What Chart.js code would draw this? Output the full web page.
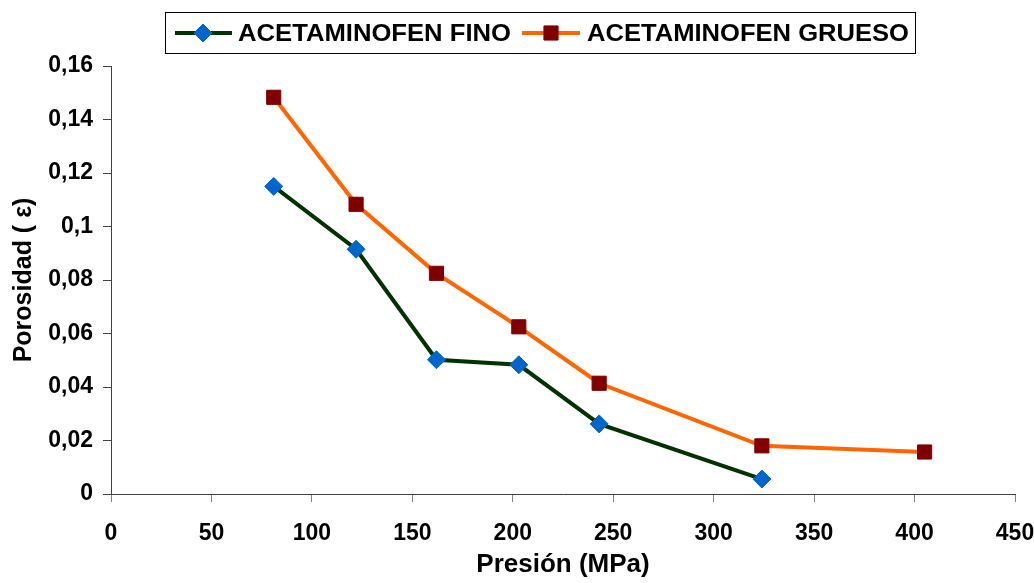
<!DOCTYPE html>
<html>
<head>
<meta charset="utf-8">
<script src="https://cdn.jsdelivr.net/npm/chart.js@4/dist/chart.umd.min.js"></script>
<style>
html,body{margin:0;padding:0;background:#fff;}
#wrap{width:1034px;height:583px;position:relative;}
</style>
</head>
<body>
<div id="wrap"><canvas id="c" width="1034" height="583"></canvas></div>
<script>
// ---- data ----
const seriesNames = ['ACETAMINOFEN FINO', 'ACETAMINOFEN GRUESO'];
const finoX = [81, 122, 162, 203, 243, 324];
const finoY = [0.115, 0.0915, 0.0502, 0.0483, 0.0262, 0.0056];
const gruesoX = [81, 122, 162, 203, 243, 324, 405];
const gruesoY = [0.1483, 0.1083, 0.0825, 0.0625, 0.0414, 0.018, 0.0157];
const xTickLabels = ['0','50','100','150','200','250','300','350','400','450'];
const yTickLabels = ['0','0,02','0,04','0,06','0,08','0,1','0,12','0,14','0,16'];
const xTitle = 'Presión (MPa)';
const yTitle = 'Porosidad ( ε)';

const FONT = "'Liberation Sans', Arial, sans-serif";

function pts(xs, ys){ return xs.map((x,i)=>({x:x, y:ys[i]})); }

const legendBox = {
  id: 'legendBox',
  afterDraw(chart){
    const ctx = chart.ctx;
    ctx.save();
    ctx.strokeStyle = '#000';
    ctx.lineWidth = 1;
    ctx.strokeRect(165.5, 12.5, 750, 41);
    const items = [
      {ds: chart.data.datasets[0], x0: 175, x1: 232, mx: 203, tx: 238, tw: 273},
      {ds: chart.data.datasets[1], x0: 522, x1: 580, mx: 551, tx: 587, tw: 322}
    ];
    const cy = 33;
    items.forEach(it => {
      ctx.strokeStyle = it.ds.borderColor;
      ctx.lineWidth = 4;
      ctx.beginPath(); ctx.moveTo(it.x0, cy); ctx.lineTo(it.x1, cy); ctx.stroke();
      ctx.fillStyle = it.ds.pointBackgroundColor;
      ctx.strokeStyle = it.ds.pointBorderColor;
      ctx.lineWidth = 1;
      ctx.beginPath();
      const r = it.ds.pointRadius;
      if (it.ds.pointStyle === 'rectRot') {
        ctx.moveTo(it.mx, cy - r); ctx.lineTo(it.mx + r, cy); ctx.lineTo(it.mx, cy + r); ctx.lineTo(it.mx - r, cy); ctx.closePath();
      } else {
        const s = Math.SQRT1_2 * r;
        ctx.rect(it.mx - s, cy - s, 2*s, 2*s);
      }
      ctx.fill(); ctx.stroke();
      ctx.fillStyle = '#000';
      ctx.font = 'bold 24px ' + FONT;
      ctx.textBaseline = 'middle';
      ctx.textAlign = 'left';
      const w = ctx.measureText(it.ds.label).width;
      const sx = it.tw / w;
      ctx.save();
      ctx.translate(it.tx, cy + 1);
      ctx.scale(sx, 1);
      ctx.fillText(it.ds.label, 0, 0);
      ctx.restore();
    });
    ctx.restore();
  }
};

new Chart(document.getElementById('c'), {
  type: 'line',
  data: {
    datasets: [
      {
        label: seriesNames[0],
        data: pts(finoX, finoY),
        borderColor: '#003300',
        borderWidth: 4,
        pointStyle: 'rectRot',
        pointRadius: 9,
        pointHoverRadius: 9,
        pointBackgroundColor: '#0066CC',
        pointBorderColor: '#0066CC',
        pointBorderWidth: 1,
        tension: 0,
        fill: false
      },
      {
        label: seriesNames[1],
        data: pts(gruesoX, gruesoY),
        borderColor: '#FF6600',
        borderWidth: 4,
        pointStyle: 'rect',
        pointRadius: 10,
        pointHoverRadius: 10,
        pointBackgroundColor: '#800000',
        pointBorderColor: '#800000',
        pointBorderWidth: 1,
        tension: 0,
        fill: false
      }
    ]
  },
  options: {
    responsive: false,
    animation: false,
    events: [],
    layout: { padding: { left: 0, right: 19, top: 66, bottom: 0 } },
    plugins: { legend: { display: false }, tooltip: { enabled: false } },
    scales: {
      x: {
        type: 'linear',
        min: 0, max: 450,
        ticks: {
          stepSize: 50,
          color: '#000',
          font: { family: FONT, size: 23, weight: 'bold' },
          padding: 18,
          maxRotation: 0,
          autoSkip: false,
          callback: (v, i) => xTickLabels[i]
        },
        grid: { drawOnChartArea: false, tickLength: 8, color: '#808080', lineWidth: 1 },
        border: { color: '#404040', width: 1 },
        title: { display: true, text: xTitle, color: '#000',
          font: { family: FONT, size: 26, weight: 'bold' }, padding: { top: 0, bottom: 3 } },
        afterFit: (s) => { s.height = 89; s.paddingLeft = 0; s.paddingRight = 0; }
      },
      y: {
        type: 'linear',
        min: 0, max: 0.16,
        ticks: {
          stepSize: 0.02,
          color: '#000',
          font: { family: FONT, size: 23, weight: 'bold' },
          padding: 10,
          autoSkip: false,
          callback: (v, i) => yTickLabels[i]
        },
        grid: { drawOnChartArea: false, tickLength: 8, color: '#404040', lineWidth: 1 },
        border: { color: '#404040', width: 1 },
        title: { display: true, text: yTitle, color: '#000',
          font: { family: FONT, size: 25, weight: 'bold' }, padding: { top: 9, bottom: 0 } },
        afterFit: (s) => { s.width = 111; s.paddingTop = 0; s.paddingBottom = 0; }
      }
    }
  },
  plugins: [legendBox]
});
</script>
</body>
</html>
